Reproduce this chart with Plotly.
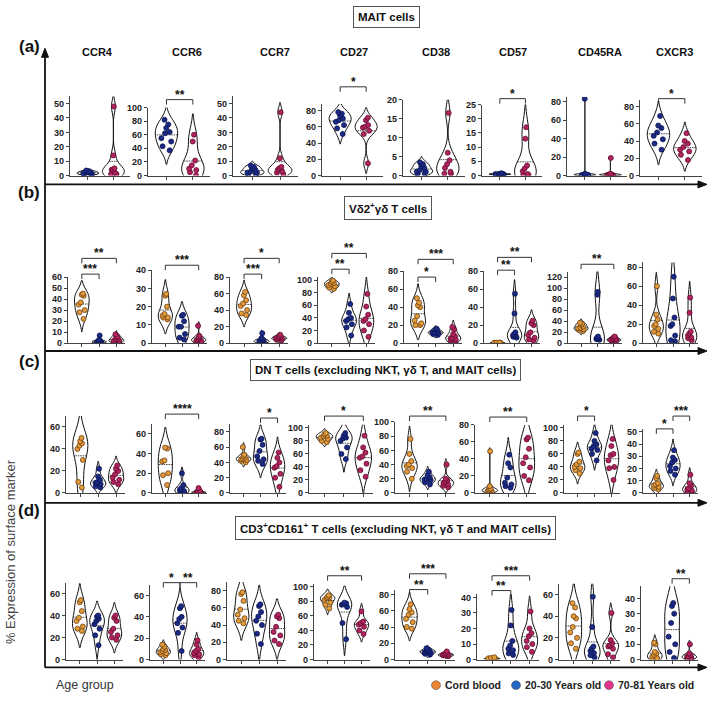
import plotly.graph_objects as go

W, H = 709, 703

markers = ["CCR4", "CCR6", "CCR7", "CD27", "CD38", "CD57", "CD45RA", "CXCR3"]
group_names = ["Cord blood", "20-30 Years old", "70-81 Years old"]

# ---------------- data (% expression) ----------------
# (a) MAIT cells : 20-30 y and 70-81 y
mait_young = [
    [0.5, 1, 1.5, 2, 2.5, 3, 3.5, 1, 2],
    [82, 75, 70, 64, 62, 55, 50, 43, 37],
    [7, 6, 5, 4, 3, 2, 2, 1, 1],
    [78, 76, 74, 70, 68, 66, 62, 58, 51],
    [3.5, 3, 2.5, 2, 1.5, 1, 0.5, 0.5, 1],
    [0.8, 0.6, 0.5, 0.4, 0.3, 0.5, 0.2, 0.6],
    [83, 2, 1.5, 1, 1, 0.5, 0.5, 1, 0.3],
    [69, 58, 55, 50, 46, 42, 37, 30],
]
mait_old = [
    [48, 14, 5, 4, 4, 2, 1, 1],
    [60, 50, 22, 15, 10, 8, 5, 0.5],
    [44, 12, 6, 5, 4, 3, 2, 1],
    [71, 68, 62, 60, 59, 55, 51, 15],
    [16.5, 6, 4, 3, 2, 1, 0.5, 0.5],
    [17, 13, 3.5, 2.5, 1.5, 0.5, 0.3, 0.2],
    [19, 2, 1.5, 1, 1, 0.5, 0.5, 0.3],
    [49, 40, 37, 33, 30, 28, 24, 18],
]
# (b) Vd2+ gd T cells
vd2_cord = [
    [45, 44, 43, 37, 35, 30, 28, 22],
    [27, 26, 20, 16, 15, 14, 14, 13],
    [62, 58, 52, 48, 45, 40, 36, 34],
    [99, 97, 95, 94, 92, 90, 88, 86],
    [50, 45, 42, 40, 30, 25, 22, 20, 20],
    [0.5, 0.5, 0.3, 0.4, 0.6, 0.2],
    [37, 35, 33, 30, 28, 27, 25, 24, 22],
    [60, 30, 25, 20, 18, 15, 12, 10],
]
vd2_young = [
    [7, 3, 2, 1.5, 1, 1, 0.5, 0.5],
    [15.5, 15, 12, 9, 9, 5, 3, 2],
    [12, 6, 4, 3, 2, 2, 1, 1],
    [62, 48, 40, 38, 35, 30, 25, 12],
    [16, 15, 13, 12, 12, 11, 10, 9],
    [55, 33, 12, 10, 9, 8, 7, 6],
    [93, 88, 12, 10, 8, 8, 7, 6],
    [70, 47, 27, 20, 18, 8, 3, 2],
]
vd2_old = [
    [8, 6, 5, 4, 3, 2, 2, 1, 1],
    [9.5, 4, 3, 2.5, 2, 1.5, 1, 1, 0.5],
    [10, 8, 7, 6, 6, 5, 4, 3],
    [78, 58, 45, 38, 35, 30, 20, 10],
    [18, 15, 10, 8, 6, 5, 4, 3, 2],
    [25, 22, 20, 12, 9, 6, 4, 3],
    [12, 10, 8, 7, 6, 5, 4, 3],
    [48, 32, 12, 10, 8, 6, 5, 3],
]
# (c) DN T cells
dn_cord = [
    [50, 47, 45, 43, 40, 30, 10, 5],
    [46, 45, 33, 32, 20, 18, 8],
    [60, 50, 48, 46, 45, 44, 43, 42, 40],
    [92, 90, 88, 87, 85, 83, 80, 78],
    [76, 55, 45, 40, 38, 35, 30, 20],
    [49, 8, 5, 4, 3, 3, 2, 1],
    [62, 60, 48, 44, 40, 38, 35, 30],
    [14, 12, 8, 7, 6, 5, 4, 3],
]
dn_young = [
    [22, 15, 12, 10, 9, 8, 6, 5],
    [20, 8, 5, 3, 2, 1, 1],
    [71, 70, 63, 55, 48, 44, 42, 38],
    [92, 88, 85, 84, 80, 70, 60, 52],
    [30, 25, 22, 20, 19, 18, 15, 12],
    [45, 35, 30, 18, 12, 10, 8, 6],
    [92, 80, 75, 72, 68, 66, 60, 50],
    [35, 29, 27, 25, 22, 20, 18, 15],
]
dn_old = [
    [25, 22, 20, 17, 14, 12, 10, 8],
    [5, 2, 1, 1, 0.5, 0.5, 0.3],
    [53, 46, 40, 35, 33, 25, 20, 8],
    [88, 70, 62, 56, 54, 45, 35, 25],
    [40, 20, 18, 16, 14, 12, 10, 8],
    [65, 63, 52, 42, 35, 30, 20, 15],
    [83, 72, 60, 58, 50, 40, 38, 20],
    [15, 8, 6, 4, 3, 2, 1, 1],
]
# (d) CD3+CD161+ T cells
cd161_cord = [
    [54, 52, 44, 38, 35, 30, 28, 26],
    [14, 12, 10, 9, 8, 7, 6, 5, 4],
    [78, 76, 68, 58, 52, 48, 45, 42],
    [88, 86, 85, 84, 82, 78, 75, 70],
    [68, 62, 58, 55, 50, 46, 40, 38],
    [1.5, 1, 0.8, 0.5, 0.5, 0.3],
    [52, 48, 40, 38, 30, 25, 20, 15, 10],
    [11, 10, 5, 4, 3, 2, 1, 1, 1],
]
cd161_young = [
    [40, 39, 37, 35, 32, 28, 22, 13],
    [50, 48, 40, 38, 34, 30, 25, 8],
    [64, 62, 55, 50, 45, 40, 30, 18],
    [78, 77, 76, 75, 72, 50, 28],
    [14, 12, 11, 10, 10, 9, 8, 7, 6],
    [32, 22, 12, 9, 7, 6, 4, 3],
    [58, 30, 12, 10, 8, 6, 4, 2],
    [37, 35, 30, 24, 15, 10, 5, 1],
]
cd161_old = [
    [40, 38, 35, 28, 25, 22, 20, 18],
    [18, 14, 10, 8, 6, 5, 4, 2],
    [52, 50, 48, 38, 32, 28, 22, 18],
    [66, 52, 50, 48, 45, 40, 35],
    [10, 8, 7, 6, 6, 5, 5, 4],
    [31, 20, 17, 15, 12, 10, 8, 5],
    [43, 18, 15, 13, 12, 10, 5, 2],
    [10, 4, 3, 2, 2, 1, 1, 1],
]

row_labels = ["(a)", "(b)", "(c)", "(d)"]
row_titles = ["MAIT cells",
              "Vδ2<sup>+</sup>γδ T cells",
              "DN T cells (excluding NKT, γδ T, and MAIT cells)",
              "CD3<sup>+</sup>CD161<sup>+</sup> T cells (excluding NKT, γδ T and MAIT cells)"]
row_data = [
    [None, mait_young, mait_old],
    [vd2_cord, vd2_young, vd2_old],
    [dn_cord, dn_young, dn_old],
    [cd161_cord, cd161_young, cd161_old],
]

# y-axis maxima and tick steps
y_max = [
    [55, 100, 55, 88, 20, 25, 85, 88],
    [60, 40, 80, 105, 80, 80, 130, 85],
    [70, 70, 90, 105, 100, 80, 105, 52],
    [70, 70, 90, 104, 85, 42, 70, 48],
]
y_dtick = [
    [10, 20, 10, 20, 5, 5, 20, 20],
    [10, 10, 20, 20, 20, 20, 20, 20],
    [20, 20, 20, 20, 20, 20, 20, 10],
    [20, 20, 20, 20, 20, 10, 20, 10],
]

# significance brackets: (row, col, group_i, group_j, label, y pixel)
brackets = [
    (0, 1, 0, 1, "**", 96), (0, 3, 0, 1, "*", 83), (0, 5, 0, 1, "*", 95), (0, 7, 0, 1, "*", 95),
    (1, 0, 0, 1, "***", 273), (1, 0, 0, 2, "**", 257),
    (1, 1, 0, 2, "***", 264),
    (1, 2, 0, 1, "***", 273), (1, 2, 0, 2, "*", 257),
    (1, 3, 0, 1, "**", 268), (1, 3, 0, 2, "**", 252),
    (1, 4, 0, 1, "*", 276), (1, 4, 0, 2, "***", 258),
    (1, 5, 0, 1, "**", 269), (1, 5, 0, 2, "**", 256),
    (1, 6, 0, 2, "**", 263),
    (2, 1, 0, 2, "****", 415), (2, 2, 1, 2, "*", 419), (2, 3, 0, 2, "*", 417),
    (2, 4, 0, 2, "**", 417), (2, 5, 0, 2, "**", 418), (2, 6, 0, 1, "*", 417),
    (2, 7, 0, 1, "*", 430), (2, 7, 1, 2, "***", 417),
    (3, 1, 0, 1, "*", 586), (3, 1, 1, 2, "**", 586), (3, 3, 0, 2, "**", 579),
    (3, 4, 0, 1, "**", 593), (3, 4, 0, 2, "***", 577),
    (3, 5, 0, 1, "**", 594), (3, 5, 0, 2, "***", 579),
    (3, 7, 1, 2, "**", 582),
]

# ---------------- layout geometry (pixels) ----------------
zero_px = [173, 343, 495, 664]
ref_tick = [
    [(50, 100), (100, 104), (50, 100), (80, 107), (20, 96), (25, 101), (80, 98), (80, 103)],
    [(60, 276), (40, 269), (80, 276), (100, 279), (80, 270), (80, 270), (120, 276), (80, 266)],
    [(60, 428), (60, 435), (80, 433), (100, 429), (100, 423), (80, 426), (100, 429), (50, 433)],
    [(60, 597), (60, 599), (80, 594), (100, 590), (80, 598), (40, 601), (60, 598), (40, 602)],
]
panel_x = [
    [(70, 130), (148, 210), (233, 298), (322, 383), (403, 465), (482, 542), (567, 627), (640, 702)],
    [(68, 125), (152, 207), (230, 288), (318, 375), (404, 462), (484, 540), (568, 622), (643, 698)],
    [(66, 125), (152, 207), (230, 286), (309, 373), (395, 455), (475, 536), (564, 620), (643, 698)],
    [(66, 123), (150, 205), (227, 286), (314, 370), (395, 455), (477, 539), (559, 620), (641, 698)],
]
x_range_2 = [-0.7, 1.65]
x_range_3 = [-0.8, 2.5]
row_line_px = [182, 351, 505, 672]
frame_left_px = 45
frame_top_px = 44
frame_right_px = 707
label_y_px = [42, 190, 362, 513]
title_pos = [(386, 12.5), (388, 206), (385, 370), (395, 531)]
header_x = [97, 187, 275, 354, 436, 513, 600, 674]

pt_fill = ["#E39A3B", "#1B2A85", "#B3235F"]
pt_edge = ["#6B4010", "#0D1550", "#5E0E30"]
legend_col = ["#EE8433", "#2467C8", "#E2338C"]
FONT = "Liberation Sans, Arial, sans-serif"


def px_x(p):
    return p / W


def px_y(p):
    return 1 - p / H


def text_ann(xp, yp, text, size, color="#111", **kw):
    d = dict(x=px_x(xp), y=px_y(yp), xref="paper", yref="paper", text=text,
             showarrow=False, xanchor="center", yanchor="middle",
             font=dict(family=FONT, size=size, color=color))
    d.update(kw)
    return d


fig = go.Figure()
layout_axes = {}
annotations = []
shapes = []

k = 0
for r in range(4):
    for c in range(8):
        k += 1
        xa = "x" if k == 1 else f"x{k}"
        ya = "y" if k == 1 else f"y{k}"
        groups = [g for g in range(3) if row_data[r][g] is not None]
        for pos, g in enumerate(groups):
            vals = row_data[r][g][c]
            fig.add_trace(go.Violin(
                x=[pos] * len(vals), y=vals, xaxis=xa, yaxis=ya,
                line=dict(color="#111111", width=1), fillcolor="rgba(255,255,255,0)",
                points="all", pointpos=0, jitter=0.55,
                marker=dict(size=5, color=pt_fill[g], line=dict(color=pt_edge[g], width=0.8)),
                meanline=dict(visible=True, color="#222222", width=0.8),
                width=0.85, scalemode="width", spanmode="soft",
                showlegend=False, hoverinfo="y", name=group_names[g]))
        ng = len(groups)
        x0, x1 = panel_x[r][c]
        tv, tp = ref_tick[r][c]
        ymax = y_max[r][c]
        top = zero_px[r] - (zero_px[r] - tp) * ymax / tv
        layout_axes["xaxis" if k == 1 else f"xaxis{k}"] = dict(
            domain=[px_x(x0), px_x(x1)], anchor=ya,
            range=x_range_2 if ng == 2 else x_range_3,
            showline=True, linecolor="#444", linewidth=1.2,
            ticks="outside", ticklen=3, tickcolor="#444",
            tickvals=list(range(ng)), ticktext=[""] * ng,
            showgrid=False, zeroline=False, fixedrange=True)
        layout_axes["yaxis" if k == 1 else f"yaxis{k}"] = dict(
            domain=[px_y(zero_px[r]), px_y(top)], anchor=xa,
            range=[0, ymax], dtick=y_dtick[r][c], tick0=0,
            showline=True, linecolor="#444", linewidth=1.2,
            ticks="outside", ticklen=3, tickcolor="#444",
            tickfont=dict(family=FONT, size=9, color="#222", weight="bold"),
            showgrid=False, zeroline=False, fixedrange=True)

# brackets
for (r, c, gi, gj, lab, ypx) in brackets:
    k = r * 8 + c + 1
    xa = "x" if k == 1 else f"x{k}"
    y0 = px_y(ypx)
    y1 = px_y(ypx + 5)
    shapes.append(dict(type="path", xref=xa, yref="paper",
                       path=f"M {gi},{y1} L {gi},{y0} L {gj},{y0} L {gj},{y1}",
                       line=dict(color="#333", width=1)))
    annotations.append(dict(x=(gi + gj) / 2, y=y0, xref=xa, yref="paper",
                            text=f"<b>{lab}</b>", showarrow=False,
                            xanchor="center", yanchor="bottom", yshift=-4,
                            font=dict(family=FONT, size=12, color="#111")))

# column headers
for c, name in enumerate(markers):
    annotations.append(text_ann(header_x[c], 48, f"<b>{name}</b>", 11))

# row labels and boxed titles
for r in range(4):
    annotations.append(text_ann(29, label_y_px[r], f"<b>{row_labels[r]}</b>", 17))
    tx, ty = title_pos[r]
    annotations.append(text_ann(tx, ty, f"<b>{row_titles[r]}</b>", 11.5,
                                bordercolor="#555", borderwidth=1, borderpad=4,
                                bgcolor="white"))

# frame lines with arrow heads
shapes.append(dict(type="line", xref="paper", yref="paper",
                   x0=px_x(frame_left_px), x1=px_x(frame_left_px),
                   y0=px_y(row_line_px[-1]), y1=px_y(frame_top_px + 6),
                   line=dict(color="#111", width=1.8)))
shapes.append(dict(type="path", xref="paper", yref="paper", fillcolor="#111",
                   line=dict(color="#111", width=1),
                   path=(f"M {px_x(frame_left_px)},{px_y(frame_top_px)} "
                         f"L {px_x(frame_left_px - 3.5)},{px_y(frame_top_px + 9)} "
                         f"L {px_x(frame_left_px + 3.5)},{px_y(frame_top_px + 9)} Z")))
for yl in row_line_px:
    shapes.append(dict(type="line", xref="paper", yref="paper",
                       x0=px_x(frame_left_px), x1=px_x(frame_right_px - 6),
                       y0=px_y(yl), y1=px_y(yl), line=dict(color="#111", width=1.8)))
    shapes.append(dict(type="path", xref="paper", yref="paper", fillcolor="#111",
                       line=dict(color="#111", width=1),
                       path=(f"M {px_x(frame_right_px)},{px_y(yl)} "
                             f"L {px_x(frame_right_px - 9)},{px_y(yl - 3.5)} "
                             f"L {px_x(frame_right_px - 9)},{px_y(yl + 3.5)} Z")))

# axis-like captions
annotations.append(text_ann(10, 555, "% Expression of surface marker", 13, "#444", textangle=-90))
annotations.append(text_ann(85, 690, "Age group", 12.5, "#333"))

# legend (circle swatches + labels)
leg_x = [436, 516, 609]
leg_r = 4.5
for g in range(3):
    shapes.append(dict(type="circle", xref="paper", yref="paper",
                       x0=px_x(leg_x[g] - leg_r), x1=px_x(leg_x[g] + leg_r),
                       y0=px_y(690 + leg_r), y1=px_y(690 - leg_r),
                       fillcolor=legend_col[g], line=dict(color="#555", width=0.6)))
    annotations.append(text_ann(leg_x[g] + 7, 690, f"<b>{group_names[g]}</b>", 10.5, "#222",
                                xanchor="left"))

fig.update_layout(
    width=W, height=H, autosize=False,
    margin=dict(l=0, r=0, t=0, b=0),
    paper_bgcolor="white", plot_bgcolor="rgba(0,0,0,0)",
    violinmode="overlay", violingap=0, showlegend=False,
    annotations=annotations, shapes=shapes,
    **layout_axes,
)

fig.write_html("out.html")
